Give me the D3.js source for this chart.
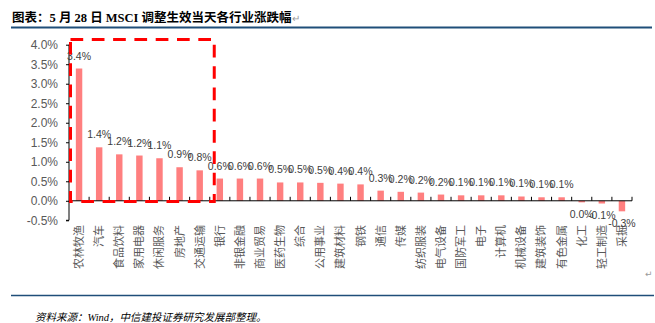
<!DOCTYPE html>
<html>
<head>
<meta charset="utf-8">
<script src="https://cdn.jsdelivr.net/npm/d3@7"></script>
<style>
  html, body { margin: 0; padding: 0; background: #fff; }
  svg { display: block; }
</style>
</head>
<body>
<svg id="chart" width="655" height="323"></svg>
<script>
// Industry returns (%) on the day the MSCI rebalance took effect
const categories = ["农林牧渔","汽车","食品饮料","家用电器","休闲服务","房地产","交通运输","银行","非银金融","商业贸易",
  "医药生物","综合","公用事业","建筑材料","钢铁","通信","传媒","纺织服装","电气设备","国防军工",
  "电子","计算机","机械设备","建筑装饰","有色金属","化工","轻工制造","采掘"];
const values = [3.39,1.37,1.19,1.16,1.09,0.86,0.78,0.57,0.57,0.57,
  0.47,0.47,0.46,0.44,0.42,0.26,0.23,0.21,0.16,0.14,
  0.14,0.14,0.11,0.09,0.09,-0.04,-0.07,-0.27];
const yTicks = [-0.5,0,0.5,1.0,1.5,2.0,2.5,3.0,3.5,4.0];
const titleText = "图表：5 月 28 日 MSCI 调整生效当天各行业涨跌幅";
const sourceText = "资料来源：Wind，中信建投证券研究发展部整理。";
const highlightCount = 7;   // leading industries boxed in red

const svg = d3.select("#chart");
const locale = d3.formatLocale({decimal: ".", thousands: ",", grouping: [3], currency: ["", ""], minus: "-"});
const fmt = locale.format(".1f");

const x = d3.scaleBand().domain(categories).range([69, 632]).paddingInner(0.68).paddingOuter(0.34);
const y = d3.scaleLinear().domain([-0.5, 4.0]).range([220.3, 44.7]);
const step = x.step();
const xLeft = x.range()[0];

// Title and rules
svg.append("text")
  .attr("x", 12).attr("y", 21.5)
  .attr("font-family", "'Liberation Serif', 'Noto Sans CJK SC', serif")
  .attr("font-weight", "bold").attr("font-size", 12.5).attr("fill", "#000")
  .text(titleText)
  .append("tspan").attr("fill", "#9a9a9a").attr("font-weight", "normal").attr("font-size", 10).text("↵");
svg.append("line").attr("x1", 11).attr("x2", 652).attr("y1", 27.5).attr("y2", 27.5)
  .attr("stroke", "#1f4e79").attr("stroke-width", 2);
svg.append("line").attr("x1", 11).attr("x2", 654).attr("y1", 295.5).attr("y2", 295.5)
  .attr("stroke", "#1f4e79").attr("stroke-width", 1.5);
svg.append("text")
  .attr("x", 35).attr("y", 321)
  .attr("font-family", "'Liberation Serif', 'Noto Sans CJK SC', serif")
  .attr("font-style", "italic").attr("font-size", 10.5).attr("fill", "#000")
  .text(sourceText);
svg.append("text").attr("x", 645).attr("y", 277).attr("font-size", 9)
  .attr("fill", "#9a9a9a").attr("font-family", "'DejaVu Sans', sans-serif").text("↵");

// Y axis
const yAxis = d3.axisLeft(y).tickValues(yTicks).tickSize(3).tickPadding(8)
  .tickFormat(d => fmt(d) + "%");
const gy = svg.append("g").attr("transform", `translate(${xLeft},0)`).call(yAxis);
gy.select(".domain").attr("stroke", "#000").attr("d", `M-3,${y(-0.5)}H0V${y(4.0)}`);
gy.selectAll(".tick line").attr("stroke", "#000");
gy.selectAll(".tick text").attr("fill", "#595959").attr("font-size", 12)
  .attr("font-family", "'Liberation Sans', Arial, sans-serif");

// Bars
svg.append("g").selectAll("rect").data(values).join("rect")
  .attr("x", (d, i) => x(categories[i]))
  .attr("width", x.bandwidth())
  .attr("y", d => y(Math.max(0, d)))
  .attr("height", d => Math.abs(y(d) - y(0)))
  .attr("fill", "#ff7f7f");

// X axis along zero with inside ticks at category boundaries
const gx = svg.append("g").attr("transform", `translate(0,${y(0)})`);
gx.append("line").attr("x1", xLeft).attr("x2", x.range()[1]).attr("stroke", "#000");
gx.selectAll(".xt").data(d3.range(1, categories.length + 1)).join("line")
  .attr("class", "xt")
  .attr("x1", i => xLeft + i * step).attr("x2", i => xLeft + i * step)
  .attr("y1", 0).attr("y2", -4).attr("stroke", "#000");

// Category labels, rotated
svg.append("g").selectAll("text").data(categories).join("text")
  .attr("transform", d => `translate(${x(d) + x.bandwidth() / 2},225) rotate(-90)`)
  .attr("text-anchor", "end").attr("dy", "0.36em")
  .attr("font-family", "'Noto Sans CJK SC', sans-serif").attr("font-size", 11)
  .attr("fill", "#595959")
  .text(d => d);

// Value labels
svg.append("g").selectAll("text").data(values).join("text")
  .attr("x", (d, i) => x(categories[i]) + x.bandwidth() / 2)
  .attr("y", d => d >= 0 ? y(d) - 9 : y(d) + 15.5)
  .attr("text-anchor", "middle")
  .attr("font-family", "'Liberation Sans', Arial, sans-serif").attr("font-size", 10.5)
  .attr("fill", "#404040")
  .text(d => fmt(d) + "%");

// Red dashed highlight box around the leading industries
svg.append("rect")
  .attr("x", xLeft + 1.5)
  .attr("y", y(4.0) - 5.2)
  .attr("width", highlightCount * step + 3)
  .attr("height", y(0) - (y(4.0) - 5.2) + 0.7)
  .attr("fill", "none").attr("stroke", "#ff0000").attr("stroke-width", 3)
  .attr("stroke-dasharray", "12.7 8.6");
</script>
</body>
</html>
